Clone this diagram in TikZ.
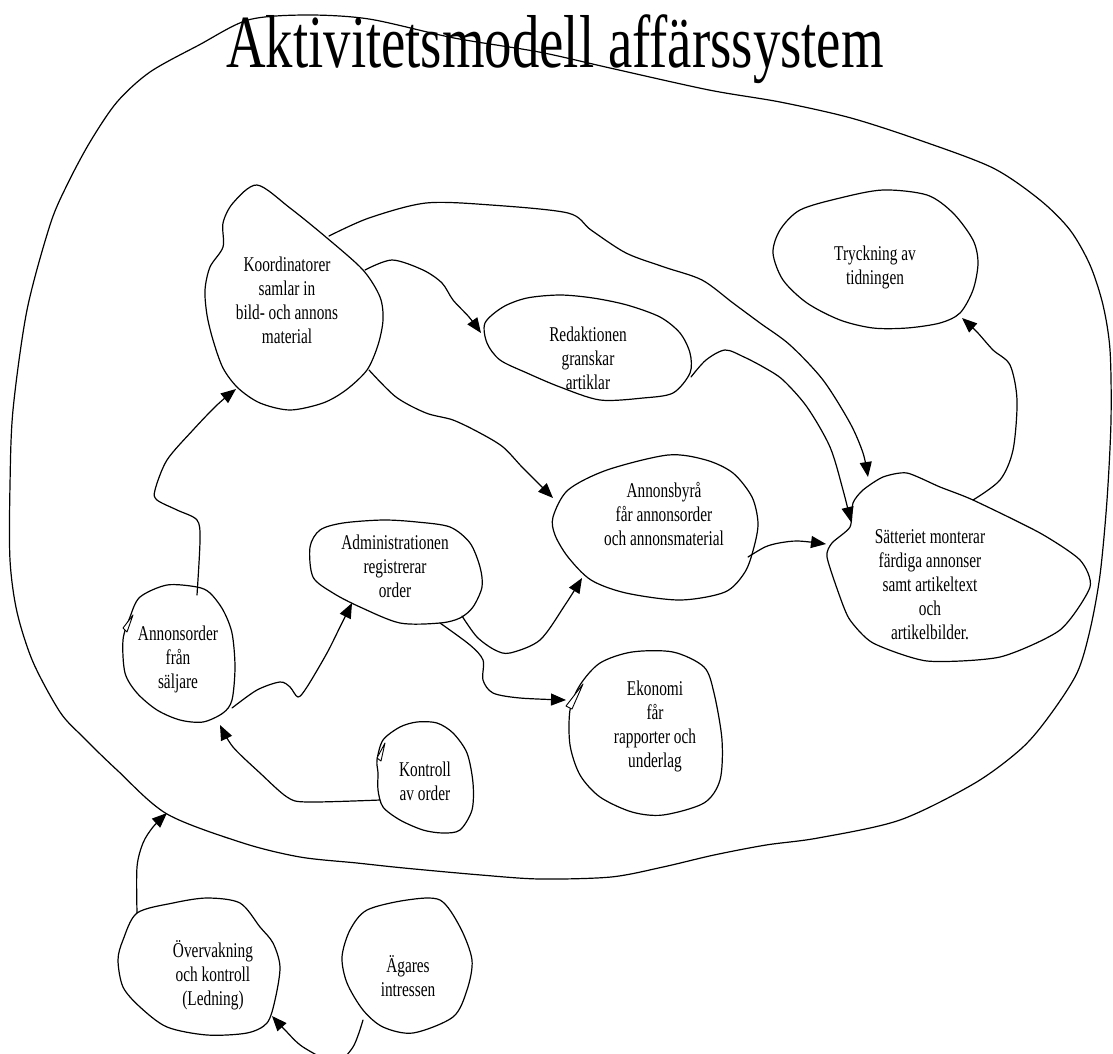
\documentclass[tikz,border=0pt]{standalone}
\usepackage{fontspec}
\setmainfont{Liberation Serif}
\usetikzlibrary{arrows.meta}
\begin{document}
\begin{tikzpicture}[x=1pt,y=-1pt,
  outline/.style={line width=1.2pt, line join=round, line cap=round},
  blob/.style={outline},
  flow/.style={outline, -{Triangle[length=15pt,width=12pt]}},
  openmark/.style={line width=0.9pt, fill=white, line join=round},
  lbl/.style={font=\fontsize{21}{24}\selectfont, align=center, xscale=0.73, inner sep=0pt},
  heading/.style={font=\fontsize{75}{75}\selectfont, xscale=0.73, inner sep=0pt, anchor=base}]
\fill[white] (0,0) rectangle (1113,1053);
\useasboundingbox (0,0) rectangle (1113,1053);

% ---------- title ----------
\node[heading] (title) at (555,67) {Aktivitetsmodell affärssystem};

% ---------- system boundary ----------
\draw[blob] plot[smooth cycle, tension=0.5] coordinates {
  (199,45) (248,20) (305,15) (369,19) (454,38) (539,52) (610,68) (709,90)
  (780,102) (851,118) (922,141) (993,168) (1040,200) (1070,230) (1090,265)
  (1103,305) (1110,350) (1111,420) (1107,500) (1100,575) (1090,630) (1077,673)
  (1050,715) (1022,748) (975,783) (900,820) (818,838) (766,845) (714,855)
  (663,867) (611,877) (540,879) (481,875) (404,868) (357,863) (300,857)
  (243,843) (167,814) (117,770) (83,737) (60,712) (33,662) (17,612) (10,560)
  (10,485) (13,410) (27,310) (50,225) (67,185) (90,142) (117,102) (150,72)};
\coordinate (sys-in) at (167,813);

% ---------- activities ----------
\node[lbl] (koord) at (287,300) {Koordinatorer\\samlar in\\bild- och annons\\material};
\draw[blob] plot[smooth cycle, tension=0.5] coordinates {
  (257,185) (233,203) (223,223) (223,247) (210,267) (205,290) (207,315)
  (213,340) (223,368) (238,388) (260,403) (290,410) (323,403) (346,390)
  (367,370) (378,345) (383,320) (380,297) (363,270) (327,238) (290,208)};

\node[lbl] (tryck) at (875,267) {Tryckning av\\tidningen};
\draw[blob] plot[smooth cycle, tension=0.5] coordinates {
  (883,190) (927,195) (953,213) (973,240) (978,263) (973,290) (960,313)
  (940,323) (907,328) (873,328) (840,320) (807,303) (783,280) (773,253)
  (780,230) (800,210) (840,198)};

\node[lbl] (redak) at (588,358) {Redaktionen\\granskar\\artiklar};
\draw[blob] plot[smooth cycle, tension=0.5] coordinates {
  (485,323) (503,307) (527,298) (560,295) (593,298) (627,305) (660,317)
  (680,333) (690,353) (690,373) (673,393) (643,398) (600,400) (560,387)
  (527,373) (500,360) (487,343)};

\node[lbl] (byra) at (664,514) {Annonsbyrå\\får annonsorder\\och annonsmaterial};
\draw[blob] plot[smooth cycle, tension=0.5] coordinates {
  (553,517) (568,490) (607,470) (668,455) (706,460) (733,473) (752,497)
  (758,523) (754,547) (745,572) (725,592) (680,600) (626,593) (591,580)
  (568,557) (555,535)};

\node[lbl] (satt) at (930,585) {Sätteriet monterar\\färdiga annonser\\samt artikeltext\\och\\artikelbilder.};
\draw[blob] plot[smooth cycle, tension=0.4] coordinates {
  (907,473) (940,487) (973,500) (1040,533) (1080,560) (1090,587) (1060,630)
  (1000,657) (927,661) (873,643) (850,620) (840,597) (827,557) (832,543)
  (850,527) (853,503) (863,490) (883,477)};

\node[lbl] (admin) at (395,566) {Administrationen\\registrerar\\order};
\draw[blob] plot[smooth cycle, tension=0.5] coordinates {
  (310,547) (320,530) (343,523) (383,520) (417,522) (450,527) (470,543)
  (480,567) (482,587) (473,607) (460,618) (440,623) (400,623) (360,607)
  (333,593) (313,577)};

\node[lbl] (order) at (178,659) {Annonsorder\\från\\säljare};
\draw[blob] plot[smooth cycle, tension=0.5] coordinates {
  (197,587) (167,585) (140,597) (130,617) (123,640) (125,673) (137,693)
  (157,710) (180,720) (203,722) (223,713) (232,700) (235,667) (232,633)
  (223,610) (210,593)};

\node[lbl] (ekon) at (655,726) {Ekonomi\\får\\rapporter och\\underlag};
\draw[blob] plot[smooth cycle, tension=0.5] coordinates {
  (580,685) (600,663) (632,652) (673,652) (704,667) (714,693) (722,740)
  (720,780) (704,803) (663,815) (632,812) (600,797) (580,775) (570,745)
  (570,710)};

\node[lbl] (kontr) at (425,781) {Kontroll\\av order};
\draw[blob] plot[smooth cycle, tension=0.5] coordinates {
  (377,760) (383,740) (400,727) (417,722) (437,723) (453,733) (467,753)
  (473,783) (472,810) (460,830) (443,833) (423,830) (400,820) (383,807)
  (378,790) (378,773)};

\node[lbl] (overv) at (213,975) {Övervakning\\och kontroll\\(Ledning)};
\draw[blob] plot[smooth cycle, tension=0.5] coordinates {
  (137,913) (173,903) (207,898) (240,903) (260,927) (273,943) (280,967)
  (275,1000) (267,1023) (247,1033) (207,1035) (167,1027) (140,1007)
  (123,987) (118,960) (123,940)};

\node[lbl] (agare) at (408,976) {Ägares\\intressen};
\draw[blob] plot[smooth cycle, tension=0.5] coordinates {
  (367,910) (407,900) (440,900) (460,927) (472,960) (467,990) (453,1017)
  (413,1033) (383,1027) (363,1010) (347,983) (342,957) (350,930)};

% small open marks on the outlines
\draw[openmark] (133,615) -- (123,628) -- (127,632) -- cycle;
\draw[openmark] (385,743) -- (377,758) -- (381,761) -- cycle;
\draw[openmark] (583,684) -- (566,706) -- (572,709) -- cycle;

% ---------- connector ends ----------
\coordinate (order-up)   at (197,595);
\coordinate (koord-in)   at (236,389);
\coordinate (order-out)  at (232,708);
\coordinate (admin-in)   at (352,603);
\coordinate (kontr-out)  at (380,800);
\coordinate (order-in)   at (220,725);
\coordinate (admin-out1) at (462,616);
\coordinate (byra-in)    at (582,578);
\coordinate (admin-out2) at (440,623);
\coordinate (ekon-in)    at (566,700);
\coordinate (koord-out1) at (365,270);
\coordinate (redak-in)   at (481,333);
\coordinate (koord-out2) at (369,370);
\coordinate (byra-in2)   at (553,498);
\coordinate (koord-out3) at (329,236);
\coordinate (satt-in1)   at (868,477);
\coordinate (redak-out)  at (691,377);
\coordinate (satt-in2)   at (851,522);
\coordinate (byra-out)   at (748,557);
\coordinate (satt-in3)   at (826,544);
\coordinate (satt-out)   at (973,500);
\coordinate (tryck-in)   at (962,318);
\coordinate (overv-out)  at (137,913);
\coordinate (agare-out)  at (363,1020);
\coordinate (overv-in)   at (272,1016);

% ---------- connectors ----------
\draw[flow] plot[smooth, tension=0.5] coordinates {
  (order-up) (200,540) (197,520) (177,510) (157,500) (155,490) (167,460)
  (193,430) (217,405) (koord-in)};
\draw[flow] plot[smooth, tension=0.5] coordinates {
  (order-out) (257,690) (280,682) (290,687) (298,697) (307,687) (327,653)
  (340,627) (admin-in)};
\draw[flow] plot[smooth, tension=0.5] coordinates {
  (kontr-out) (307,802) (287,797) (260,773) (233,747) (order-in)};
\draw[flow] plot[smooth, tension=0.5] coordinates {
  (admin-out1) (477,637) (495,650) (510,653) (540,640) (565,605) (byra-in)};
\draw[flow] plot[smooth, tension=0.5] coordinates {
  (admin-out2) (470,645) (483,660) (483,680) (493,693) (520,698) (ekon-in)};
\draw[flow] plot[smooth, tension=0.5] coordinates {
  (koord-out1) (392,260) (423,270) (442,283) (453,300) (469,317) (redak-in)};
\draw[flow] plot[smooth, tension=0.5] coordinates {
  (koord-out2) (396,397) (426,413) (453,420) (480,433) (503,447) (522,467)
  (538,483) (byra-in2)};
\draw[flow] plot[smooth, tension=0.5] coordinates {
  (koord-out3) (369,218) (426,203) (491,205) (568,213) (591,230) (626,253)
  (664,267) (702,280) (733,303) (760,323) (790,345) (823,380) (850,423)
  (863,453) (satt-in1)};
\draw[flow] plot[smooth, tension=0.5] coordinates {
  (redak-out) (706,360) (725,350) (744,357) (765,368) (783,380) (807,407)
  (830,447) (843,490) (satt-in2)};
\draw[flow] plot[smooth, tension=0.5] coordinates {
  (byra-out) (765,547) (779,543) (798,541) (satt-in3)};
\draw[flow] plot[smooth, tension=0.5] coordinates {
  (satt-out) (1000,480) (1013,450) (1017,400) (1010,365) (993,350) (977,332)
  (tryck-in)};
\draw[flow] plot[smooth, tension=0.5] coordinates {
  (overv-out) (137,867) (143,843) (153,827) (sys-in)};
\draw[flow] plot[smooth, tension=0.5] coordinates {
  (agare-out) (353,1047) (335,1062) (303,1047) (285,1030) (overv-in)};
\end{tikzpicture}
\end{document}
